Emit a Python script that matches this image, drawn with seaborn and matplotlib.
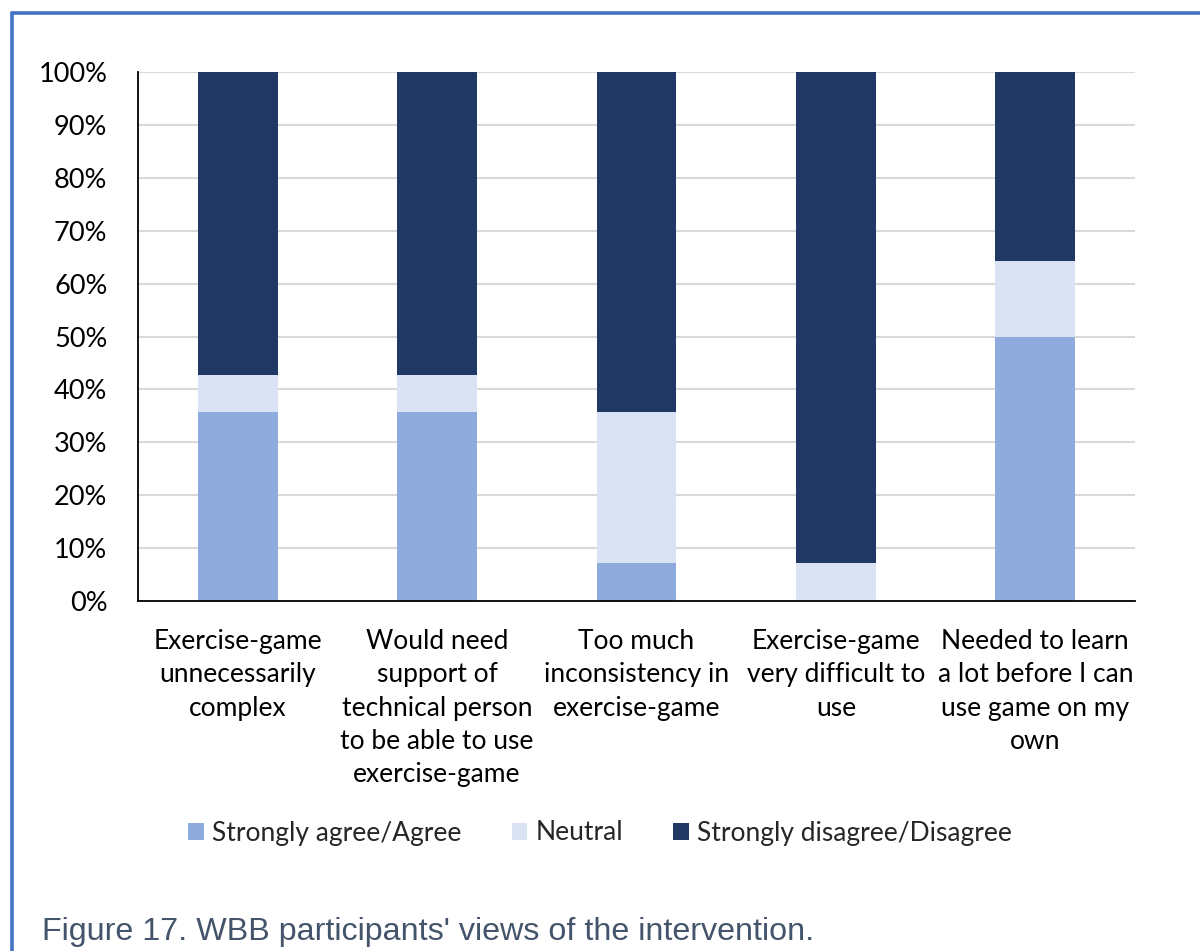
import matplotlib
matplotlib.use("Agg")
import matplotlib.pyplot as plt
from matplotlib.lines import Line2D
from matplotlib.patches import Patch
from matplotlib.ticker import PercentFormatter
import numpy as np
import pandas as pd
import seaborn as sns

# Survey statements (wrapped as shown on the axis)
statements = [
    "Exercise-game\nunnecessarily\ncomplex",
    "Would need\nsupport of\ntechnical person\nto be able to use\nexercise-game",
    "Too much\ninconsistency in\nexercise-game",
    "Exercise-game\nvery difficult to\nuse",
    "Needed to learn\na lot before I can\nuse game on my\nown",
]
# Share of responses (%)
agree = [35.7, 35.7, 7.1, 0.0, 50.0]
neutral = [7.1, 7.1, 28.6, 7.1, 14.3]
disagree = [57.2, 57.2, 64.3, 92.9, 35.7]

series_names = ["Strongly agree/Agree", "Neutral", "Strongly disagree/Disagree"]
series_colors = ["#8FAADC", "#DAE3F3", "#203864"]
y_ticks = list(range(0, 101, 10))
caption = "Figure 17. WBB participants' views of the intervention."

sns.set_theme(style="white")
plt.rcParams["font.family"] = ["Lato", "DejaVu Sans"]

fig = plt.figure(figsize=(12, 9.51), dpi=100)
ax = fig.add_axes([0.115, 0.368, 0.8308, 0.5563])

df = pd.DataFrame({
    "statement": statements,
    series_names[0]: agree,
    series_names[1]: neutral,
    series_names[2]: disagree,
})

bottom = np.zeros(len(statements))
for name, color in zip(series_names, series_colors):
    sns.barplot(data=df, x="statement", y=name, color=color, width=0.4,
                bottom=bottom, ax=ax, saturation=1, edgecolor="none",
                linewidth=0, zorder=3)
    bottom = bottom + df[name].to_numpy()

ax.set_ylim(0, 100)
ax.set_xlim(-0.5, len(statements) - 0.5)
ax.set_yticks(y_ticks)
ax.yaxis.set_major_formatter(PercentFormatter(decimals=0))
ax.grid(axis="y", color="#D9D9D9", linewidth=1.5, zorder=0)
ax.grid(axis="x", visible=False)
ax.set_axisbelow(True)
ax.set_xlabel("")
ax.set_ylabel("")
for side in ["top", "right"]:
    ax.spines[side].set_visible(False)
for side in ["left", "bottom"]:
    ax.spines[side].set_color("black")
    ax.spines[side].set_linewidth(1.3)
    ax.spines[side].set_zorder(4)
ax.tick_params(axis="y", length=0, pad=22, labelsize=19.5, labelcolor="black")
ax.tick_params(axis="x", length=0, pad=20, labelsize=19, labelcolor="black")
for lbl in ax.get_xticklabels():
    lbl.set_linespacing(1.42)
    lbl.set_verticalalignment("top")

handles = [Patch(facecolor=c, edgecolor="none") for c in series_colors]
fig.legend(handles, series_names, loc="center", bbox_to_anchor=(0.5, 1 - 833 / 951),
           ncol=3, frameon=False, fontsize=19, handlelength=0.6, handleheight=0.6,
           handletextpad=0.3, columnspacing=1.9)

fig.text(42 / 1200, 1 - 940 / 951, caption, fontsize=23.2, color="#44546A",
         family=["Liberation Sans", "DejaVu Sans"], ha="left", va="baseline")

# Page frame: left and top rules
frame_color = "#4472C4"
fig.add_artist(Line2D([11.5 / 1200, 11.5 / 1200], [0, 1 - 12.5 / 951],
                      transform=fig.transFigure, color=frame_color, linewidth=2.6))
fig.add_artist(Line2D([11.5 / 1200, 1], [1 - 12.5 / 951, 1 - 12.5 / 951],
                      transform=fig.transFigure, color=frame_color, linewidth=2.6))

fig.savefig("out.png", dpi=100, facecolor="white")
